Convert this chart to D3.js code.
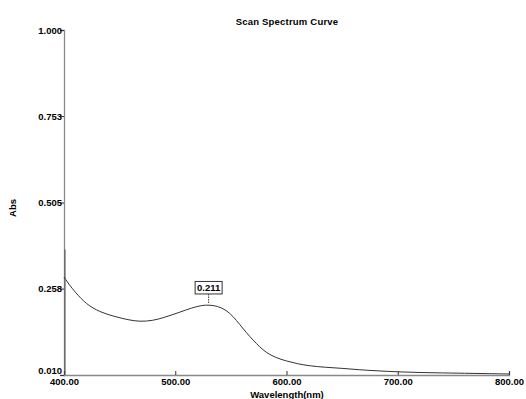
<!DOCTYPE html>
<html>
<head>
<meta charset="utf-8">
<script src="https://cdn.jsdelivr.net/npm/d3@7"></script>
<style>
body { margin: 0; background: #fff; }
text { font-family: "Liberation Sans", Arial, sans-serif; }
</style>
</head>
<body>
<div id="chart"></div>
<script>
// scan data
var wavelengths = [400, 405, 410, 420, 432, 445, 458, 468, 480, 490, 504, 515, 524, 530, 538, 546, 552, 558, 564, 570, 576, 582, 590, 600, 610, 621, 635, 651, 665, 681, 700, 720, 740, 760, 780, 800];
var absValues   = [0.291, 0.268, 0.248, 0.213, 0.191, 0.178, 0.168, 0.163, 0.166, 0.175, 0.190, 0.203, 0.210, 0.211, 0.208, 0.196, 0.178, 0.155, 0.131, 0.110, 0.090, 0.074, 0.060, 0.050, 0.042, 0.036, 0.032, 0.029, 0.025, 0.022, 0.019, 0.017, 0.016, 0.015, 0.014, 0.013];
var xTicks = [400, 500, 600, 700, 800];
var yTicks = [0.010, 0.258, 0.505, 0.753, 1.000];
var peakWl = 530, peakAbs = 0.211;

var margin = { left: 64, right: 17, top: 30, bottom: 24 };
var W = 526, H = 399;
var width = W - margin.left - margin.right;
var height = H - margin.top - margin.bottom;

var svg = d3.select("#chart").append("svg")
    .attr("width", W)
    .attr("height", H);
var g = svg.append("g")
    .attr("transform", "translate(" + margin.left + "," + margin.top + ")");

var x = d3.scaleLinear().domain([400, 800]).range([0, width]);
var y = d3.scaleLinear().domain([0.010, 1.000]).range([height, 0]);

var fs = "9.5px";

// title
svg.append("text")
    .attr("x", 287).attr("y", 25)
    .attr("text-anchor", "middle")
    .attr("font-size", "9.5px")
    .attr("font-weight", "bold")
    .attr("letter-spacing", "0.2px")
    .text("Scan Spectrum Curve");

// y axis
var yAxis = g.append("g")
    .call(d3.axisLeft(y).tickValues(yTicks).tickSize(4).tickFormat(d3.format(".3f")));
yAxis.select(".domain").attr("stroke", "#888").attr("stroke-width", 1.3);
yAxis.selectAll(".tick line").attr("stroke", "#333");
yAxis.selectAll(".tick text")
    .attr("x", -2)
    .attr("font-size", fs)
    .attr("font-weight", "bold")
    .attr("fill", "#000")
    .attr("font-family", "Liberation Sans, Arial, sans-serif");
// lowest label sits a little above the corner, as in the original
yAxis.selectAll(".tick text").filter(function(d) { return d === yTicks[0]; })
    .attr("y", -5);

// x axis (ticks pointing up)
var xAxis = g.append("g")
    .attr("transform", "translate(0," + height + ")")
    .call(d3.axisBottom(x).tickValues(xTicks).tickSize(-4).tickPadding(3).tickFormat(d3.format(".2f")));
xAxis.select(".domain").attr("stroke", "#888").attr("stroke-width", 1.3);
xAxis.selectAll(".tick line").attr("stroke", "#333");
xAxis.selectAll(".tick text")
    .attr("font-size", fs)
    .attr("font-weight", "bold")
    .attr("fill", "#000")
    .attr("font-family", "Liberation Sans, Arial, sans-serif");

// axis labels
svg.append("text")
    .attr("x", 287).attr("y", 398)
    .attr("text-anchor", "middle")
    .attr("font-size", fs)
    .attr("font-weight", "bold")
    .text("Wavelength(nm)");

svg.append("text")
    .attr("transform", "translate(16,208) rotate(-90)")
    .attr("text-anchor", "middle")
    .attr("font-size", fs)
    .attr("font-weight", "bold")
    .text("Abs");

// start-of-scan spike along the axis
g.append("line")
    .attr("x1", x(400) + 1).attr("x2", x(400) + 1)
    .attr("y1", y(0.010)).attr("y2", y(0.37))
    .attr("stroke", "#555")
    .attr("stroke-width", 1);

// spectrum curve
var line = d3.line()
    .x(function(d, i) { return x(wavelengths[i]); })
    .y(function(d) { return y(d); })
    .curve(d3.curveBasis);

g.append("path")
    .attr("d", line(absValues))
    .attr("fill", "none")
    .attr("stroke", "#333")
    .attr("stroke-width", 1);

// peak marker
g.append("line")
    .attr("x1", x(peakWl)).attr("x2", x(peakWl))
    .attr("y1", y(peakAbs) - 2).attr("y2", y(peakAbs) - 11)
    .attr("stroke", "#333")
    .attr("stroke-dasharray", "1.5,1");

var label = g.append("g")
    .attr("transform", "translate(" + x(peakWl) + "," + (y(peakAbs) - 17) + ")");
label.append("rect")
    .attr("x", -13.5).attr("y", -6.5)
    .attr("width", 27).attr("height", 12.5)
    .attr("fill", "#fff")
    .attr("stroke", "#333")
    .attr("stroke-width", 1);
label.append("text")
    .attr("text-anchor", "middle")
    .attr("dy", "0.35em")
    .attr("font-size", fs)
    .attr("font-weight", "bold")
    .text(d3.format(".3f")(peakAbs));
</script>
</body>
</html>
